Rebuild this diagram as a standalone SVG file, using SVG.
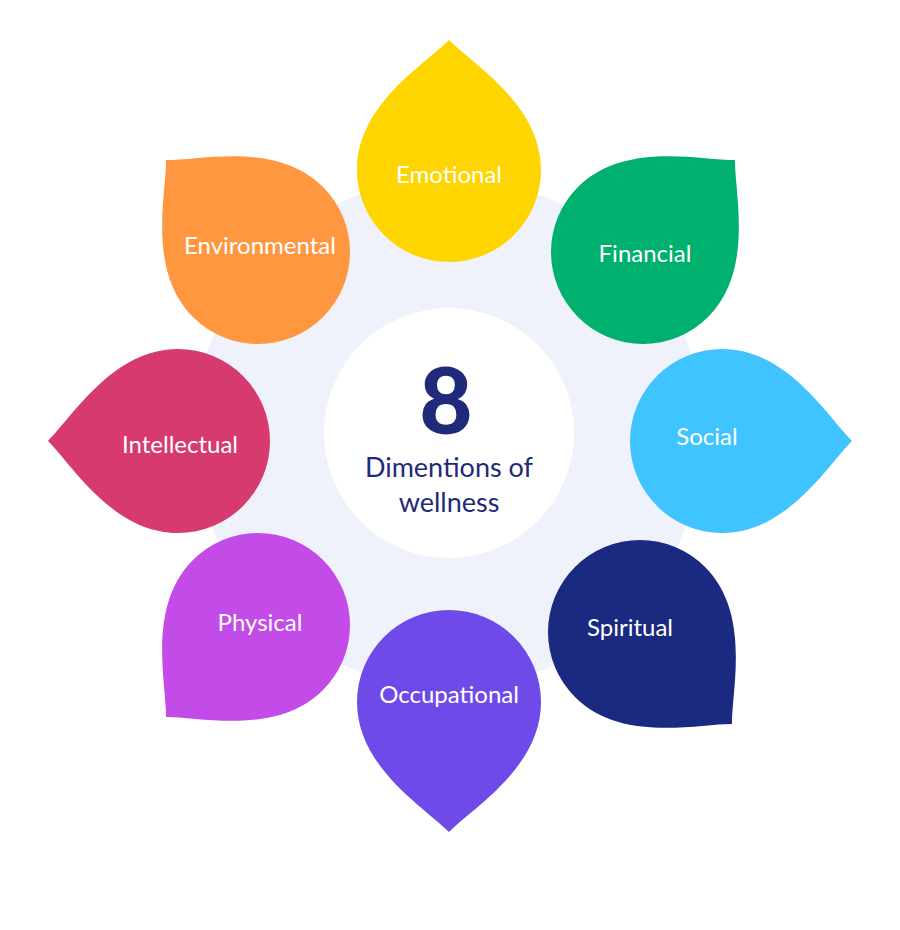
<svg xmlns="http://www.w3.org/2000/svg" width="900" height="930" viewBox="0 0 900 930">
<defs>
<path id="drop" d="M0,-130 C25,-105 92,-65 92,0 A92,92 0 0 1 -92,0 C-92,-65 -25,-105 0,-130 Z"/>
<path id="sq" d="M0,-134 C20,-110 75,-80 90,-30 A92,92 0 1 1 -30,-90 C-5,-98 -2,-120 0,-134 Z"/>
</defs>
<style>
.t{font-family:"Lato","Liberation Sans",sans-serif;font-size:24px;fill:#fff;text-anchor:middle}
.c{font-family:"Lato","Liberation Sans",sans-serif;fill:#1F2A7A;text-anchor:middle}
</style>
<rect width="900" height="930" fill="#fff"/>
<circle cx="449" cy="433" r="255" fill="#EFF2FB"/>
<g id="emotional"><use href="#drop" transform="translate(449,170)" fill="#FFD500"/><text class="t" x="449" y="183">Emotional</text></g>
<g id="financial"><use href="#drop" transform="translate(643,252) rotate(45)" fill="#00B06E"/><text class="t" x="645" y="262">Financial</text></g>
<g id="social"><use href="#drop" transform="translate(722,441) rotate(90)" fill="#40C4FF"/><text class="t" x="707" y="445">Social</text></g>
<g id="spiritual"><use href="#drop" transform="translate(640,632) rotate(135)" fill="#1A2A80"/><text class="t" x="630" y="636">Spiritual</text></g>
<g id="occupational"><use href="#drop" transform="translate(449,702) rotate(180)" fill="#6E4BE8"/><text class="t" x="449" y="703">Occupational</text></g>
<g id="physical"><use href="#drop" transform="translate(258,625) rotate(225)" fill="#C34BE8"/><text class="t" x="260" y="631">Physical</text></g>
<g id="intellectual"><use href="#drop" transform="translate(178,441) rotate(270)" fill="#D63A6E"/><text class="t" x="180" y="453">Intellectual</text></g>
<g id="environmental"><use href="#drop" transform="translate(258,252) rotate(315)" fill="#FF9640"/><text class="t" x="260" y="254">Environmental</text></g>
<g id="center"><circle cx="449" cy="433" r="125" fill="#fff"/>
<text class="c" x="446" y="434" font-size="92" font-weight="900">8</text>
<text class="c" x="449" y="477" font-size="27">Dimentions of</text>
<text class="c" x="449" y="512" font-size="27">wellness</text></g>
<g id="connectors"/>
</svg>
